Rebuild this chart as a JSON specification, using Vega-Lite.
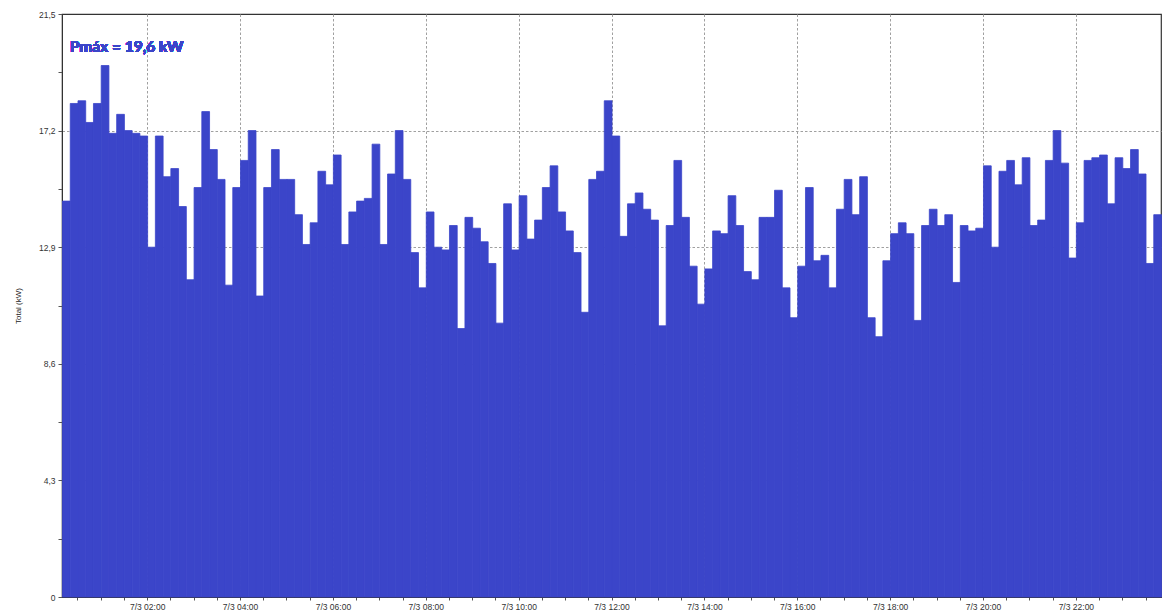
{
  "$schema": "https://vega.github.io/schema/vega-lite/v6.json",
  "width": 1099,
  "height": 583,
  "autosize": "none",
  "padding": {"left": 62, "top": 14, "right": 7, "bottom": 15},
  "background": "white",
  "config": {
    "view": {"stroke": "#333333", "strokeWidth": 1.2},
    "axis": {
      "labelFont": "Liberation Sans",
      "titleFont": "Liberation Sans",
      "labelFontSize": 8.5,
      "labelColor": "#333333",
      "domainColor": "#333333",
      "tickColor": "#555555",
      "gridColor": "#a0a0a0",
      "gridDash": [2.5, 2],
      "zindex": 1
    }
  },
  "data": {
    "values": [
      {"t": "2024-03-07T00:10", "v": 14.6}, {"t": "2024-03-07T00:20", "v": 18.2}, {"t": "2024-03-07T00:30", "v": 18.3},
      {"t": "2024-03-07T00:40", "v": 17.5}, {"t": "2024-03-07T00:50", "v": 18.2}, {"t": "2024-03-07T01:00", "v": 19.6},
      {"t": "2024-03-07T01:10", "v": 17.1}, {"t": "2024-03-07T01:20", "v": 17.8}, {"t": "2024-03-07T01:30", "v": 17.2},
      {"t": "2024-03-07T01:40", "v": 17.1}, {"t": "2024-03-07T01:50", "v": 17.0}, {"t": "2024-03-07T02:00", "v": 12.9},
      {"t": "2024-03-07T02:10", "v": 17.0}, {"t": "2024-03-07T02:20", "v": 15.5}, {"t": "2024-03-07T02:30", "v": 15.8},
      {"t": "2024-03-07T02:40", "v": 14.4}, {"t": "2024-03-07T02:50", "v": 11.7}, {"t": "2024-03-07T03:00", "v": 15.1},
      {"t": "2024-03-07T03:10", "v": 17.9}, {"t": "2024-03-07T03:20", "v": 16.5}, {"t": "2024-03-07T03:30", "v": 15.4},
      {"t": "2024-03-07T03:40", "v": 11.5}, {"t": "2024-03-07T03:50", "v": 15.1}, {"t": "2024-03-07T04:00", "v": 16.1},
      {"t": "2024-03-07T04:10", "v": 17.2}, {"t": "2024-03-07T04:20", "v": 11.1}, {"t": "2024-03-07T04:30", "v": 15.1},
      {"t": "2024-03-07T04:40", "v": 16.5}, {"t": "2024-03-07T04:50", "v": 15.4}, {"t": "2024-03-07T05:00", "v": 15.4},
      {"t": "2024-03-07T05:10", "v": 14.1}, {"t": "2024-03-07T05:20", "v": 13.0}, {"t": "2024-03-07T05:30", "v": 13.8},
      {"t": "2024-03-07T05:40", "v": 15.7}, {"t": "2024-03-07T05:50", "v": 15.2}, {"t": "2024-03-07T06:00", "v": 16.3},
      {"t": "2024-03-07T06:10", "v": 13.0}, {"t": "2024-03-07T06:20", "v": 14.2}, {"t": "2024-03-07T06:30", "v": 14.6},
      {"t": "2024-03-07T06:40", "v": 14.7}, {"t": "2024-03-07T06:50", "v": 16.7}, {"t": "2024-03-07T07:00", "v": 13.0},
      {"t": "2024-03-07T07:10", "v": 15.6}, {"t": "2024-03-07T07:20", "v": 17.2}, {"t": "2024-03-07T07:30", "v": 15.4},
      {"t": "2024-03-07T07:40", "v": 12.7}, {"t": "2024-03-07T07:50", "v": 11.4}, {"t": "2024-03-07T08:00", "v": 14.2},
      {"t": "2024-03-07T08:10", "v": 12.9}, {"t": "2024-03-07T08:20", "v": 12.8}, {"t": "2024-03-07T08:30", "v": 13.7},
      {"t": "2024-03-07T08:40", "v": 9.9}, {"t": "2024-03-07T08:50", "v": 14.0}, {"t": "2024-03-07T09:00", "v": 13.6},
      {"t": "2024-03-07T09:10", "v": 13.1}, {"t": "2024-03-07T09:20", "v": 12.3}, {"t": "2024-03-07T09:30", "v": 10.1},
      {"t": "2024-03-07T09:40", "v": 14.5}, {"t": "2024-03-07T09:50", "v": 12.8}, {"t": "2024-03-07T10:00", "v": 14.8},
      {"t": "2024-03-07T10:10", "v": 13.2}, {"t": "2024-03-07T10:20", "v": 13.9}, {"t": "2024-03-07T10:30", "v": 15.1},
      {"t": "2024-03-07T10:40", "v": 15.9}, {"t": "2024-03-07T10:50", "v": 14.2}, {"t": "2024-03-07T11:00", "v": 13.5},
      {"t": "2024-03-07T11:10", "v": 12.7}, {"t": "2024-03-07T11:20", "v": 10.5}, {"t": "2024-03-07T11:30", "v": 15.4},
      {"t": "2024-03-07T11:40", "v": 15.7}, {"t": "2024-03-07T11:50", "v": 18.3}, {"t": "2024-03-07T12:00", "v": 17.0},
      {"t": "2024-03-07T12:10", "v": 13.3}, {"t": "2024-03-07T12:20", "v": 14.5}, {"t": "2024-03-07T12:30", "v": 14.9},
      {"t": "2024-03-07T12:40", "v": 14.3}, {"t": "2024-03-07T12:50", "v": 13.9}, {"t": "2024-03-07T13:00", "v": 10.0},
      {"t": "2024-03-07T13:10", "v": 13.7}, {"t": "2024-03-07T13:20", "v": 16.1}, {"t": "2024-03-07T13:30", "v": 14.0},
      {"t": "2024-03-07T13:40", "v": 12.2}, {"t": "2024-03-07T13:50", "v": 10.8}, {"t": "2024-03-07T14:00", "v": 12.1},
      {"t": "2024-03-07T14:10", "v": 13.5}, {"t": "2024-03-07T14:20", "v": 13.4}, {"t": "2024-03-07T14:30", "v": 14.8},
      {"t": "2024-03-07T14:40", "v": 13.7}, {"t": "2024-03-07T14:50", "v": 12.0}, {"t": "2024-03-07T15:00", "v": 11.7},
      {"t": "2024-03-07T15:10", "v": 14.0}, {"t": "2024-03-07T15:20", "v": 14.0}, {"t": "2024-03-07T15:30", "v": 15.0},
      {"t": "2024-03-07T15:40", "v": 11.4}, {"t": "2024-03-07T15:50", "v": 10.3}, {"t": "2024-03-07T16:00", "v": 12.2},
      {"t": "2024-03-07T16:10", "v": 15.1}, {"t": "2024-03-07T16:20", "v": 12.4}, {"t": "2024-03-07T16:30", "v": 12.6},
      {"t": "2024-03-07T16:40", "v": 11.4}, {"t": "2024-03-07T16:50", "v": 14.3}, {"t": "2024-03-07T17:00", "v": 15.4},
      {"t": "2024-03-07T17:10", "v": 14.1}, {"t": "2024-03-07T17:20", "v": 15.5}, {"t": "2024-03-07T17:30", "v": 10.3},
      {"t": "2024-03-07T17:40", "v": 9.6}, {"t": "2024-03-07T17:50", "v": 12.4}, {"t": "2024-03-07T18:00", "v": 13.4},
      {"t": "2024-03-07T18:10", "v": 13.8}, {"t": "2024-03-07T18:20", "v": 13.4}, {"t": "2024-03-07T18:30", "v": 10.2},
      {"t": "2024-03-07T18:40", "v": 13.7}, {"t": "2024-03-07T18:50", "v": 14.3}, {"t": "2024-03-07T19:00", "v": 13.7},
      {"t": "2024-03-07T19:10", "v": 14.1}, {"t": "2024-03-07T19:20", "v": 11.6}, {"t": "2024-03-07T19:30", "v": 13.7},
      {"t": "2024-03-07T19:40", "v": 13.5}, {"t": "2024-03-07T19:50", "v": 13.6}, {"t": "2024-03-07T20:00", "v": 15.9},
      {"t": "2024-03-07T20:10", "v": 12.9}, {"t": "2024-03-07T20:20", "v": 15.7}, {"t": "2024-03-07T20:30", "v": 16.1},
      {"t": "2024-03-07T20:40", "v": 15.2}, {"t": "2024-03-07T20:50", "v": 16.2}, {"t": "2024-03-07T21:00", "v": 13.7},
      {"t": "2024-03-07T21:10", "v": 13.9}, {"t": "2024-03-07T21:20", "v": 16.1}, {"t": "2024-03-07T21:30", "v": 17.2},
      {"t": "2024-03-07T21:40", "v": 16.0}, {"t": "2024-03-07T21:50", "v": 12.5}, {"t": "2024-03-07T22:00", "v": 13.8},
      {"t": "2024-03-07T22:10", "v": 16.1}, {"t": "2024-03-07T22:20", "v": 16.2}, {"t": "2024-03-07T22:30", "v": 16.3},
      {"t": "2024-03-07T22:40", "v": 14.5}, {"t": "2024-03-07T22:50", "v": 16.2}, {"t": "2024-03-07T23:00", "v": 15.8},
      {"t": "2024-03-07T23:10", "v": 16.5}, {"t": "2024-03-07T23:20", "v": 15.6}, {"t": "2024-03-07T23:30", "v": 12.3},
      {"t": "2024-03-07T23:40", "v": 14.1}
    ]
  },
  "layer": [
    {
      "mark": {"type": "bar", "color": "#3b45c9", "stroke": "#3b45c9", "strokeWidth": 0.8, "binSpacing": 0},
      "encoding": {
        "x": {
          "field": "t",
          "type": "temporal",
          "timeUnit": {"unit": "yearmonthdatehoursminutes", "step": 10},
          "scale": {
            "domain": [
              {"year": 2024, "month": 3, "date": 7, "hours": 0, "minutes": 10},
              {"year": 2024, "month": 3, "date": 7, "hours": 23, "minutes": 50}
            ]
          },
          "axis": {
            "title": null,
            "tickCount": 48,
            "labelExpr": "(minutes(datum.value) == 0 && hours(datum.value) % 2 == 0) ? '7/3 ' + timeFormat(datum.value, '%H:%M') : ''",
            "labelOverlap": false,
            "labelFlush": false,
            "tickSize": 3,
            "labelPadding": 2,
            "gridOpacity": {
              "condition": {"test": "minutes(datum.value) == 0 && hours(datum.value) % 2 == 0", "value": 1},
              "value": 0
            }
          }
        },
        "y": {
          "field": "v",
          "type": "quantitative",
          "scale": {"domain": [0, 21.5], "nice": false},
          "axis": {
            "title": "Total (kW)",
            "titleFontSize": 8,
            "titleFontWeight": "normal",
            "titleColor": "#222222",
            "titlePadding": 16,
            "values": [0, 1.075, 2.15, 3.225, 4.3, 5.375, 6.45, 7.525, 8.6, 9.675, 10.75, 11.825, 12.9, 13.975, 15.05, 16.125, 17.2, 18.275, 19.35, 20.425, 21.5],
            "labelExpr": "abs(datum.value / 4.3 - round(datum.value / 4.3)) < 0.01 ? (datum.value == 0 ? '0' : replace(format(datum.value, '.1f'), '.', ',')) : ''",
            "tickSize": 4,
            "labelPadding": 3,
            "gridOpacity": {
              "condition": {"test": "abs(datum.value / 4.3 - round(datum.value / 4.3)) < 0.01 && datum.value > 0 && datum.value < 21", "value": 1},
              "value": 0
            }
          }
        }
      }
    },
    {
      "mark": {"type": "text", "text": "Pmáx = 19,6 kW", "align": "left", "baseline": "middle", "font": "Lato", "fontWeight": "bold", "fontSize": 15.5, "fill": "#3b45c9"},
      "encoding": {
        "x": {"datum": {"year": 2024, "month": 3, "date": 7, "hours": 0, "minutes": 20}, "type": "temporal"},
        "y": {"datum": 20.3, "type": "quantitative"}
      }
    }
  ]
}
